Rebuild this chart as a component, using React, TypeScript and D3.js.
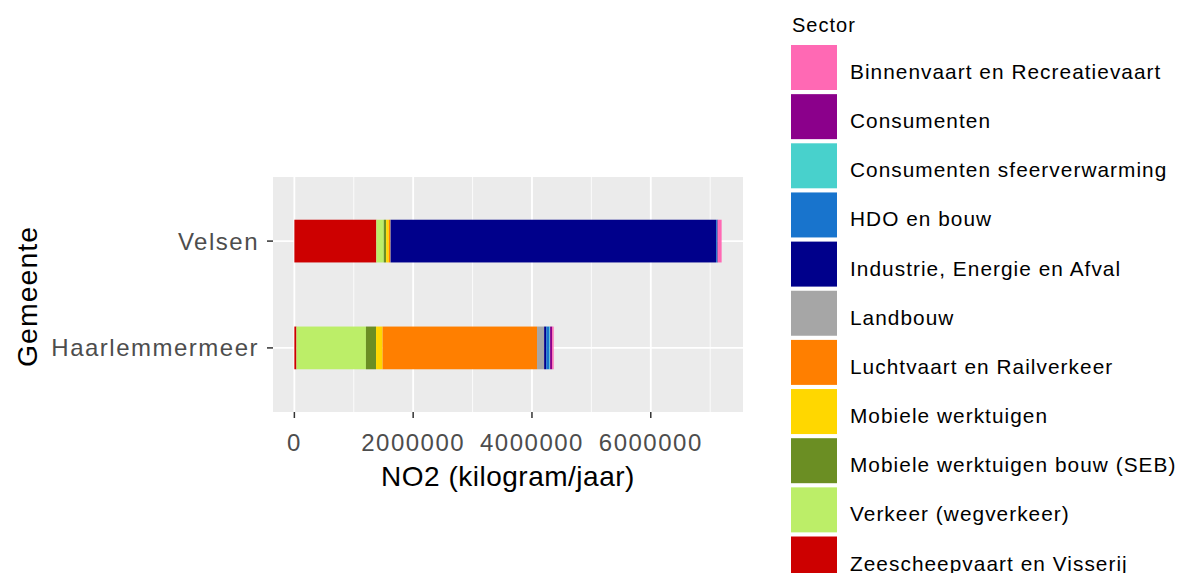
import React from "react";
import * as d3 from "d3";

const sectors = [
  "Binnenvaart en Recreatievaart",
  "Consumenten",
  "Consumenten sfeerverwarming",
  "HDO en bouw",
  "Industrie, Energie en Afval",
  "Landbouw",
  "Luchtvaart en Railverkeer",
  "Mobiele werktuigen",
  "Mobiele werktuigen bouw (SEB)",
  "Verkeer (wegverkeer)",
  "Zeescheepvaart en Visserij",
];
const sectorColors = [
  "#FF69B4", "#8B008B", "#48D1CC", "#1874CD", "#00008B", "#A6A6A6",
  "#FF7F00", "#FFD700", "#6B8E23", "#BCEE68", "#CD0000",
];
const gemeenten = ["Velsen", "Haarlemmermeer"];
// values per sector (same order as sectors), kg/jaar
const velsen = [60000, 10000, 3000, 20000, 5480000, 5000, 25000, 45000, 40000, 125000, 1380000];
const haarlemmermeer = [25000, 35000, 10000, 55000, 35000, 120000, 2600000, 110000, 170000, 1170000, 35000];
const xTicks = [0, 2000000, 4000000, 6000000];
const xMinor = [1000000, 3000000, 5000000, 7000000];

const W = 1182, H = 573;
const panel = { left: 273, right: 743, top: 177, bottom: 412 };
const tickFont = "'Liberation Sans', Arial, sans-serif";

export default function App() {
  const rows = gemeenten.map((g, gi) => {
    const vals = gi === 0 ? velsen : haarlemmermeer;
    const o: any = { g };
    sectors.forEach((s, i) => (o[s] = vals[i]));
    return o;
  });
  const stackKeys = [...sectors].reverse();
  const series = d3.stack().keys(stackKeys)(rows as any);
  const maxTotal = d3.max(rows, (r: any) => d3.sum(sectors, (s) => r[s])) as number;
  const x = d3
    .scaleLinear()
    .domain([-0.05 * maxTotal, 1.05 * maxTotal])
    .range([panel.left, panel.right]);
  const y = d3.scalePoint().domain(gemeenten).range([panel.top, panel.bottom]).padding(0.6);
  const barH = y.step() * 0.4;
  const color = d3.scaleOrdinal<string, string>().domain(sectors).range(sectorColors);

  const keyTop = 45, keyStep = 49.15, keyW = 46, keyH = 45;

  return (
    <svg width={W} height={H} style={{ position: "absolute", left: 0, top: 0, background: "#fff" }}>
      <rect x={panel.left} y={panel.top} width={panel.right - panel.left} height={panel.bottom - panel.top} fill="#EBEBEB" />
      {xMinor.map((t) => (
        <line key={"m" + t} x1={x(t)} x2={x(t)} y1={panel.top} y2={panel.bottom} stroke="#fff" strokeWidth={0.8} />
      ))}
      {xTicks.map((t) => (
        <line key={"M" + t} x1={x(t)} x2={x(t)} y1={panel.top} y2={panel.bottom} stroke="#fff" strokeWidth={1.8} />
      ))}
      {gemeenten.map((g) => (
        <line key={"h" + g} x1={panel.left} x2={panel.right} y1={y(g)} y2={y(g)} stroke="#fff" strokeWidth={1.8} />
      ))}
      {series.map((s: any) => (
        <g key={s.key} fill={color(s.key)}>
          {s.map((d: any, i: number) => (
            <rect key={i} x={x(d[0])} width={Math.max(0, x(d[1]) - x(d[0]))} y={(y(d.data.g) as number) - barH / 2} height={barH} />
          ))}
        </g>
      ))}
      {/* y axis */}
      {gemeenten.map((g) => (
        <g key={"yl" + g}>
          <line x1={panel.left - 6} x2={panel.left} y1={y(g)} y2={y(g)} stroke="#333" strokeWidth={1.5} />
          <text x={panel.left - 14} y={(y(g) as number) + 8.5} textAnchor="end" fontFamily={tickFont} fontSize={24} letterSpacing={1.5} fill="#4D4D4D">
            {g}
          </text>
        </g>
      ))}
      {/* x axis */}
      {xTicks.map((t) => (
        <g key={"xl" + t}>
          <line x1={x(t)} x2={x(t)} y1={panel.bottom} y2={panel.bottom + 6} stroke="#333" strokeWidth={1.5} />
          <text x={x(t)} y={451} textAnchor="middle" fontFamily={tickFont} fontSize={24} letterSpacing={1.5} fill="#4D4D4D">
            {t}
          </text>
        </g>
      ))}
      <text x={(panel.left + panel.right) / 2} y={486} textAnchor="middle" fontFamily={tickFont} fontSize={28} letterSpacing={0.5} fill="#000">
        NO2 (kilogram/jaar)
      </text>
      <text transform={`translate(37,${(panel.top + panel.bottom) / 2 + 2}) rotate(-90)`} textAnchor="middle" fontFamily={tickFont} fontSize={28.5} letterSpacing={1} fill="#000">
        Gemeente
      </text>
      {/* legend */}
      <text x={792} y={32} fontFamily={tickFont} fontSize={20} letterSpacing={1} fill="#000">
        Sector
      </text>
      {sectors.map((s, i) => {
        const top = keyTop + i * keyStep;
        return (
          <g key={"lg" + s}>
            <rect x={791} y={top} width={keyW} height={keyH} fill={color(s)} />
            <text x={850} y={top + keyH / 2 + 11.5} fontFamily={tickFont} fontSize={20.8} letterSpacing={1.05} fill="#000">
              {s}
            </text>
          </g>
        );
      })}
    </svg>
  );
}
